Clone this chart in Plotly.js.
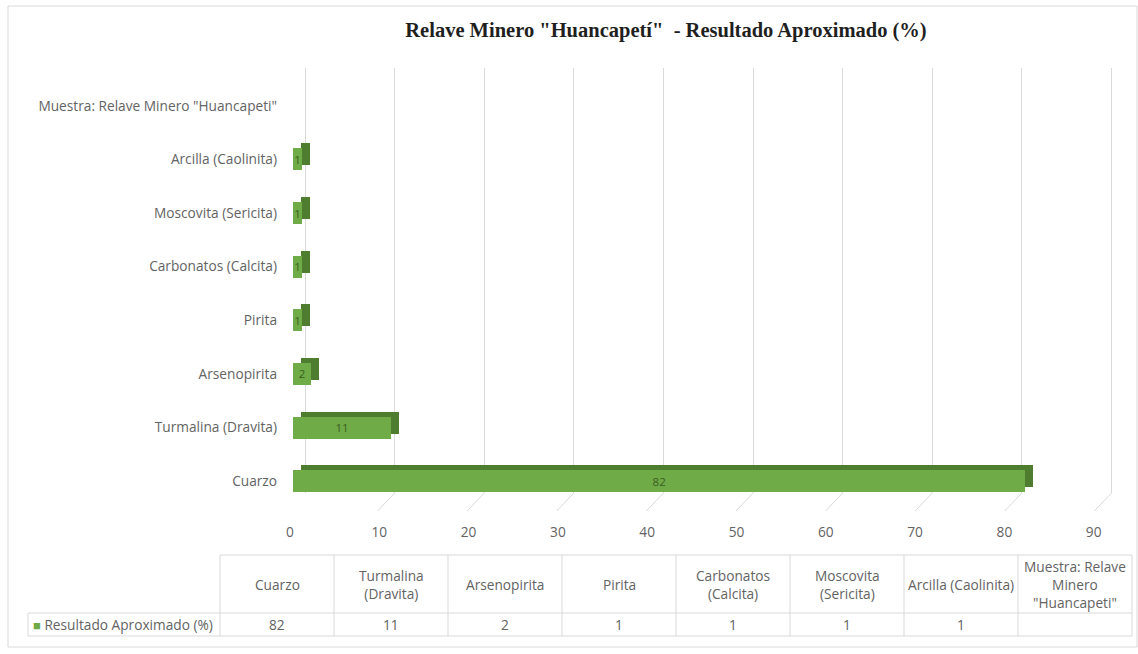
<!DOCTYPE html>
<html>
<head>
<meta charset="utf-8">
<script src="https://cdn.plot.ly/plotly-3.0.1.min.js"></script>
<style>html,body{margin:0;padding:0;background:#fff;}#chart{width:1138px;height:654px;}</style>
</head>
<body>
<div id="chart"></div>
<script>
// ---- data ----
const categories = ['Cuarzo', 'Turmalina (Dravita)', 'Arsenopirita', 'Pirita', 'Carbonatos (Calcita)', 'Moscovita (Sericita)', 'Arcilla (Caolinita)', 'Muestra: Relave Minero "Huancapeti"'];
const values = [82, 11, 2, 1, 1, 1, 1, null];
const tableHeaders = ['Cuarzo', 'Turmalina<br>(Dravita)', 'Arsenopirita', 'Pirita', 'Carbonatos<br>(Calcita)', 'Moscovita<br>(Sericita)', 'Arcilla (Caolinita)', 'Muestra: Relave<br>Minero<br>"Huancapeti"'];
const seriesName = 'Resultado Aproximado (%)';
const xTicks = [0, 10, 20, 30, 40, 50, 60, 70, 80, 90];
const chartTitle = 'Relave Minero "Huancapetí"  - Resultado Aproximado (%)';

// ---- layout helpers (pixels -> paper) ----
const W = 1138, H = 654;
const px = x => x / W;
const py = y => 1 - y / H;

const FRONT_X0 = 293, FRONT_SCALE = 8.93;       // px per unit
const BACK_X0 = 305, BACK_SCALE = 8.96;
const DEPTH_DX = 8, DEPTH_DY = 5;
const Y_TOP = 79, Y_BOT = 508;
const lab = '#636363';
const font = 'Open Sans, Noto Sans, sans-serif';
const grid = '#d9d9d9';
const FS = 13.7;

const traces = [
  // back grid plane (empty)
  {type: 'scatter', x: [], y: [], xaxis: 'x', yaxis: 'y', hoverinfo: 'skip', showlegend: false},
  // depth (top/right faces)
  {type: 'bar', orientation: 'h', y: categories, x: values, xaxis: 'x2', yaxis: 'y2',
   width: 0.41, marker: {color: '#4f7d30', line: {width: 0}}, hoverinfo: 'skip', showlegend: false},
  // front faces
  {type: 'bar', orientation: 'h', y: categories, x: values, xaxis: 'x3', yaxis: 'y3', name: seriesName,
   width: 0.41, marker: {color: '#6fab46', line: {width: 0}},
   text: values.map(v => v == null ? '' : String(v)), textposition: 'inside', insidetextanchor: 'middle',
   constraintext: 'none', textfont: {family: font, size: 11.5, color: '#3b5e23'}, showlegend: false}
];

const shapes = [];
// floor diagonals from back grid to front
xTicks.forEach(t => {
  shapes.push({type: 'line', xref: 'x', yref: 'paper', x0: t, y0: py(493), x1: t - 17 / BACK_SCALE, y1: py(511),
    line: {color: grid, width: 1}});
});
// table lines
const TX0 = 28, TC0 = 220, CW = 114, TY0 = 555, TY1 = 613, TY2 = 636;
const tcols = tableHeaders.length;
const TX1 = TC0 + CW * tcols;
const L = (x0, y0, x1, y1) => shapes.push({type: 'line', xref: 'paper', yref: 'paper', x0: px(x0), y0: py(y0), x1: px(x1), y1: py(y1), line: {color: grid, width: 1}});
L(TC0, TY0, TX1, TY0);
L(TX0, TY1, TX1, TY1);
L(TX0, TY2, TX1, TY2);
L(TX0, TY1, TX0, TY2);
for (let k = 0; k <= tcols; k++) L(TC0 + CW * k, TY0, TC0 + CW * k, TY2);
// chart border
shapes.push({type: 'rect', xref: 'paper', yref: 'paper', x0: px(8), y0: py(647), x1: px(1137), y1: py(6), line: {color: grid, width: 1}});

const annotations = [];
tableHeaders.forEach((h, k) => {
  annotations.push({xref: 'paper', yref: 'paper', x: px(TC0 + CW * (k + 0.5)), y: py((TY0 + TY1) / 2),
    text: h, showarrow: false, xanchor: 'center', yanchor: 'middle', align: 'center',
    font: {family: font, size: FS, color: lab}});
  annotations.push({xref: 'paper', yref: 'paper', x: px(TC0 + CW * (k + 0.5)), y: py((TY1 + TY2) / 2),
    text: values[k] == null ? '' : String(values[k]), showarrow: false, xanchor: 'center', yanchor: 'middle',
    font: {family: font, size: FS, color: lab}});
});
annotations.push({xref: 'paper', yref: 'paper', x: px(31), y: py((TY1 + TY2) / 2),
  text: '<span style="color:#6fab46;font-size:13px">■</span> ' + seriesName, showarrow: false, xanchor: 'left', yanchor: 'middle',
  font: {family: font, size: FS, color: lab}});

const hidden = {showgrid: false, zeroline: false, showline: false, showticklabels: false, ticks: ''};
const BACK_MAX = 90.2;

const layout = {
  width: W, height: H, margin: {l: 0, r: 0, t: 0, b: 0},
  paper_bgcolor: '#ffffff', plot_bgcolor: 'rgba(0,0,0,0)',
  hovermode: false, showlegend: false, bargap: 0,
  title: {text: chartTitle, x: px(666), y: py(30), xanchor: 'center', yanchor: 'middle',
    font: {family: 'Liberation Serif, Times New Roman, serif', size: 20.5, weight: 'bold', color: '#1f1f1f'}},
  xaxis: {domain: [px(BACK_X0), px(BACK_X0 + BACK_SCALE * BACK_MAX)], range: [0, BACK_MAX], anchor: 'y',
    showgrid: true, gridcolor: grid, gridwidth: 1, zeroline: true, zerolinecolor: grid, zerolinewidth: 1,
    tickvals: xTicks, showticklabels: false, ticks: '', showline: false, fixedrange: true},
  yaxis: Object.assign({domain: [py(493), py(68)], range: [0, 1], anchor: 'x', fixedrange: true}, hidden),
  xaxis2: Object.assign({domain: [px(FRONT_X0 + DEPTH_DX), px(FRONT_X0 + DEPTH_DX + FRONT_SCALE * 90)], range: [0, 90], anchor: 'y2', fixedrange: true}, hidden),
  yaxis2: Object.assign({domain: [py(Y_BOT - DEPTH_DY), py(Y_TOP - DEPTH_DY)], range: [-0.5, 7.5], anchor: 'x2',
    type: 'category', categoryorder: 'array', categoryarray: categories, fixedrange: true}, hidden),
  xaxis3: {domain: [px(FRONT_X0), px(FRONT_X0 + FRONT_SCALE * 90)], range: [0, 90], anchor: 'y3',
    showgrid: false, zeroline: false, showline: false, ticks: '', tickvals: xTicks,
    ticklabelstandoff: 14, ticklabelshift: -3,
    tickfont: {family: font, size: FS, color: lab}, fixedrange: true},
  yaxis3: {domain: [py(Y_BOT), py(Y_TOP)], range: [-0.5, 7.5], anchor: 'x3',
    type: 'category', categoryorder: 'array', categoryarray: categories,
    showgrid: false, zeroline: false, showline: false, ticks: '', ticklabelstandoff: 15,
    tickfont: {family: font, size: FS, color: lab}, fixedrange: true},
  shapes: shapes,
  annotations: annotations
};

Plotly.newPlot('chart', traces, layout, {displayModeBar: false, staticPlot: true});
</script>
</body>
</html>
